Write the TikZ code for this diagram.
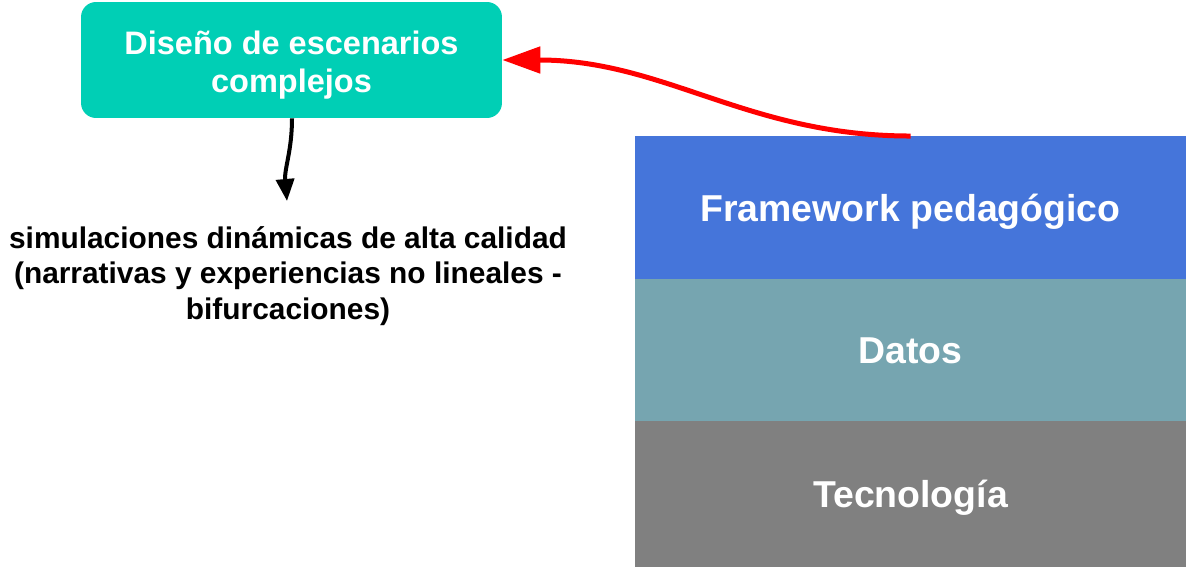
\documentclass[tikz,border=0pt]{standalone}
\usepackage{fontspec}
\setmainfont{Liberation Sans}
\usetikzlibrary{positioning, arrows.meta}
\definecolor{escenario}{HTML}{00CFB5}
\definecolor{framework}{HTML}{4575DA}
\definecolor{datos}{HTML}{76A5B0}
\definecolor{tecno}{HTML}{808080}
\definecolor{flecha}{HTML}{FF0000}

\begin{document}
\begin{tikzpicture}[x=0.02cm, y=-0.02cm,
                    capa/.style={rectangle, minimum width=11.02cm, minimum height=2.86cm,
                                 inner sep=0pt, outer sep=0pt, text=white,
                                 text height=0.6cm, text depth=0.04cm,
                                 font=\bfseries\fontsize{21.3}{25}\selectfont},
                    caja/.style={rectangle, rounded corners=0.3cm, fill=escenario,
                                 minimum width=8.42cm, minimum height=2.32cm, inner sep=0pt,
                                 text=white, align=center,
                                 font=\bfseries\fontsize{18.5}{21.6}\selectfont}]

    \useasboundingbox (0,0) rectangle (1186,568);

    \node[caja] (escenarios) at (291.5,60) {\rule{0pt}{0.68cm}Diseño de escenarios\\complejos};

    \node[capa, fill=framework] (framework) at (910.5,207.5) {Framework pedagógico};
    \node[capa, fill=datos, minimum height=2.84cm, below=0pt of framework] (datos) {Datos};
    \node[capa, fill=tecno, minimum height=2.92cm, below=0pt of datos] (tecnologia) {Tecnología};

    \node[align=center, font=\bfseries\fontsize{17}{20.4}\selectfont] (simulaciones) at (288,276)
        {simulaciones dinámicas de alta calidad\\(narrativas y experiencias no lineales -\\bifurcaciones)};
    \coordinate (punta) at (287,201);

    \draw[-{Triangle[length=0.44cm, width=0.36cm]}, line width=0.08cm]
        (escenarios.south) ++(0.5,0) to[out=-90, in=95] (punta);
    \draw[-{Triangle[length=0.76cm, width=0.52cm]}, line width=0.1cm, flecha]
        (framework.north) to[out=180, in=0] (escenarios.east);
\end{tikzpicture}
\end{document}
